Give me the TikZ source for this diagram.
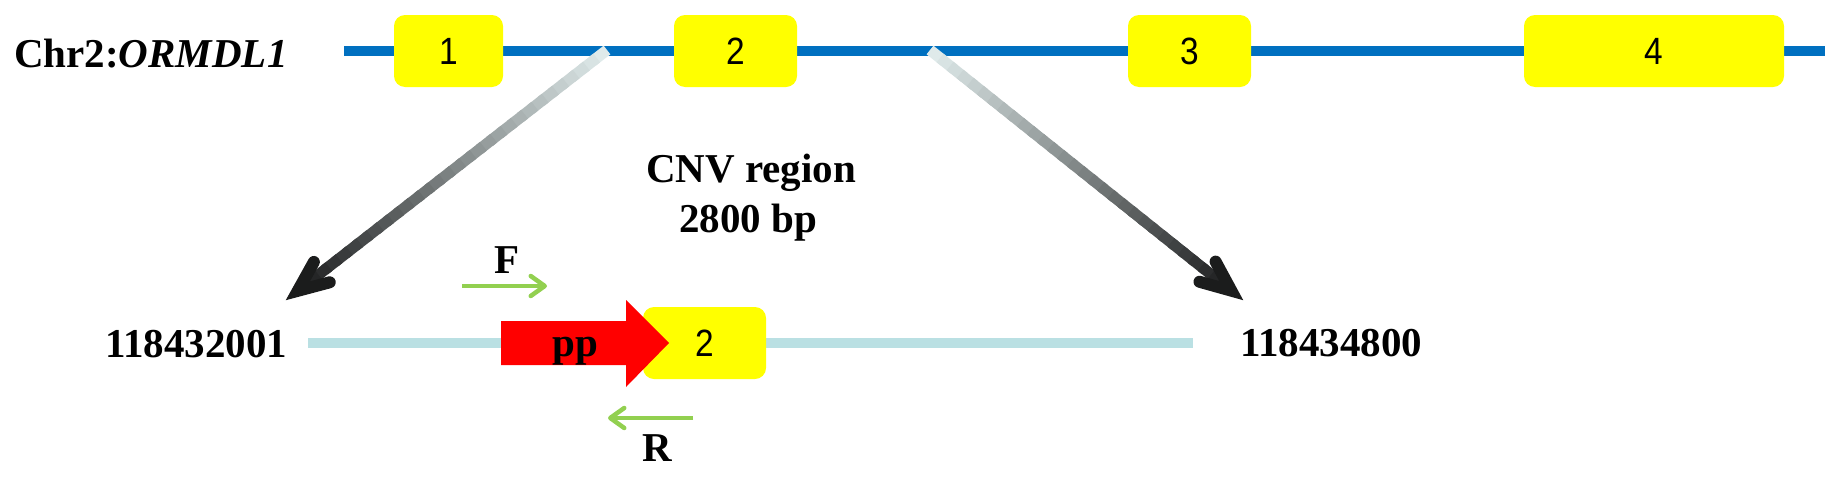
\documentclass[tikz,border=0pt]{standalone}
\usepackage{fontspec}
\setmainfont{Liberation Serif}
\newfontfamily\exonfont[FakeStretch=0.88]{Liberation Sans}
\usetikzlibrary{calc,arrows.meta}
\definecolor{exonyellow}{HTML}{FFFF00}
\definecolor{chrblue}{HTML}{0070C0}
\definecolor{cnvcyan}{HTML}{BAE0E3}
\definecolor{primergreen}{HTML}{92D050}
\definecolor{pptred}{HTML}{FF0000}
\definecolor{galight}{HTML}{E2EDEE}
\definecolor{gadark}{HTML}{1B1C1C}
\tikzset{
  exon/.style={fill=exonyellow, rounded corners=11pt, minimum height=72pt, inner sep=0pt,
    font=\exonfont\fontsize{38}{42}\selectfont},
  lbl/.style={inner sep=0pt, font=\bfseries\fontsize{41}{48}\selectfont},
  chrline/.style={draw=chrblue, line width=10pt},
  cnvline/.style={draw=cnvcyan, line width=10pt},
  primer/.style={draw=primergreen, line width=4.5pt, -{Straight Barb[length=14pt,width=20pt,round]}},
  headstyle/.style={draw=gadark, line width=12pt, line cap=round, line join=miter},
  pparrow/.style={fill=pptred},
}
\newcommand\gradarrow[2]{%
  \coordinate (#2c) at ($(#2)!15pt!(#1)$);
  \foreach \gi in {0,...,29}{%
    \pgfmathsetmacro\gta{\gi/30}%
    \pgfmathsetmacro\gtb{min(1,(\gi+1.4)/30)}%
    \pgfmathsetmacro\gpc{100-100*(\gi+0.5)/30}%
    \draw[line width=11pt, color=galight!\gpc!gadark] ($(#1)!\gta!(#2c)$) -- ($(#1)!\gtb!(#2c)$);
  }%
  \draw[headstyle] ($(#2c)!33pt!23:(#1)$) -- (#2c) -- ($(#2c)!33pt!-23:(#1)$);
}
\begin{document}
\begin{tikzpicture}[x=1pt,y=-1pt]
\useasboundingbox (0,0) rectangle (1842,477);
% chromosome line and exons
\coordinate (chrL) at (344,51);
\coordinate (chrR) at (1825,51);
\draw[chrline] (chrL) -- (chrR);
\node[exon, minimum width=109pt] (e1) at (448.5,51) {1};
\node[exon, minimum width=123pt] (e2) at (735.5,51) {2};
\node[exon, minimum width=123pt] (e3) at (1189.5,51) {3};
\node[exon, minimum width=260pt] (e4) at (1654,51) {4};
\node[lbl, anchor=base west] (chr) at (14,67) {Chr2:\textit{ORMDL1}};
% zoom arrows
\coordinate (s1) at (607,50);
\coordinate (t1) at (286,300);
\coordinate (s2) at (930,50);
\coordinate (t2) at (1243,300);
\gradarrow{s1}{t1}
\gradarrow{s2}{t2}
% CNV label
\node[lbl, anchor=base] (cnv) at (751,182) {CNV region};
\node[lbl, anchor=base] (bp) at (748,232) {2800 bp};
% CNV region line
\coordinate (cnvL) at (308,343);
\coordinate (cnvR) at (1193,343);
\draw[cnvline] (cnvL) -- (cnvR);
\node[exon, minimum width=123pt] (e2b) at (704.5,343) {2};
\fill[pparrow] (501,321) -- (626,321) -- (626,300) -- (669,343) -- (626,387) -- (626,365) -- (501,365) -- cycle;
\node[lbl, anchor=base] (pp) at (575,356) {pp};
\node[lbl, anchor=base west] (posL) at (105,357) {118432001};
\node[lbl, anchor=base west] (posR) at (1240,356) {118434800};
% primers
\coordinate (Fs) at (462,286);
\coordinate (Fe) at (547,286);
\draw[primer] (Fs) -- (Fe);
\node[lbl, anchor=base] (F) at (507,273) {F};
\coordinate (Rs) at (693,418);
\coordinate (Re) at (608,418);
\draw[primer] (Rs) -- (Re);
\node[lbl, anchor=base] (R) at (657,461) {R};
\end{tikzpicture}
\end{document}
